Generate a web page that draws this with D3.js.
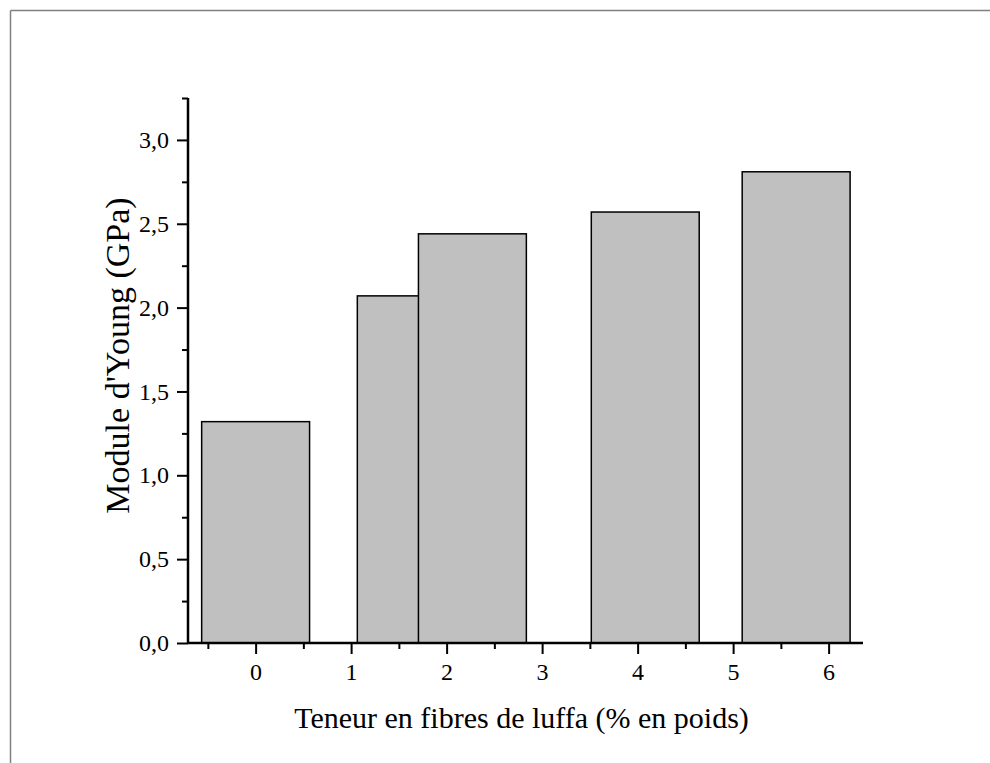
<!DOCTYPE html>
<html>
<head>
<meta charset="utf-8">
<script src="https://cdn.jsdelivr.net/npm/d3@7"></script>
<style>
  html, body { margin: 0; padding: 0; background: #fff; }
  svg { display: block; }
  text { font-family: "Liberation Serif", "Times New Roman", serif; fill: #000; }
</style>
</head>
<body>
<svg id="chart" width="990" height="763"></svg>
<script>
// ---- data ----
const fiberContent = [0, 1.63, 2.27, 4.08, 5.66];   // bar centres (% en poids)
const youngModulus = [1.32, 2.07, 2.44, 2.57, 2.81]; // GPa
const xTickValues = [0, 1, 2, 3, 4, 5, 6];
const yTickValues = [0, 0.5, 1.0, 1.5, 2.0, 2.5, 3.0];
const xTitle = "Teneur en fibres de luffa (% en poids)";
const yTitle = "Module d'Young (GPa)";

// ---- layout ----
const W = 990, H = 763;
const plot = { left: 188, right: 863, top: 98, bottom: 643 };
const barWidthUnits = 1.13;

const svg = d3.select("#chart");

// outer frame (cropped)
svg.append("line").attr("x1", 10.5).attr("y1", 10.5).attr("x2", W).attr("y2", 10.5)
  .attr("stroke", "#808080").attr("stroke-width", 1.5);
svg.append("line").attr("x1", 10.5).attr("y1", 10.5).attr("x2", 10.5).attr("y2", H)
  .attr("stroke", "#808080").attr("stroke-width", 1.5);

const x = d3.scaleLinear().domain([-0.708, 6.36]).range([plot.left, plot.right]);
const y = d3.scaleLinear().domain([0, 3.25]).range([plot.bottom, plot.top]);

// bars
const bars = fiberContent.map((c, i) => ({ c, v: youngModulus[i] }));
svg.append("g").selectAll("rect").data(bars).join("rect")
  .attr("x", d => x(d.c - barWidthUnits / 2))
  .attr("y", d => y(d.v))
  .attr("width", d => x(d.c + barWidthUnits / 2) - x(d.c - barWidthUnits / 2))
  .attr("height", d => y(0) - y(d.v))
  .attr("fill", "#c0c0c0")
  .attr("stroke", "#000")
  .attr("stroke-width", 1.5);

const fmt = v => d3.format(".1f")(v).replace(".", ",");

// X axis minor ticks
const xMinor = d3.range(-0.5, 6.0, 1);
svg.append("g").attr("transform", `translate(0,${plot.bottom})`)
  .call(d3.axisBottom(x).tickValues(xMinor).tickSize(6).tickFormat(""))
  .call(g => g.select(".domain").remove())
  .call(g => g.selectAll("line").attr("stroke-width", 2));
// X axis major
const gx = svg.append("g").attr("transform", `translate(0,${plot.bottom})`)
  .call(d3.axisBottom(x).tickValues(xTickValues).tickSize(11).tickPadding(9).tickFormat(d3.format("d")));
gx.select(".domain").attr("d", `M${plot.left},0H${plot.right}`).attr("stroke-width", 2.5);
gx.selectAll("line").attr("stroke-width", 2);
gx.selectAll("text").attr("font-size", 24).attr("font-family", "Liberation Serif");

// Y axis minor
const yMinor = d3.range(0.25, 3.3, 0.5);
svg.append("g").attr("transform", `translate(${plot.left},0)`)
  .call(d3.axisLeft(y).tickValues(yMinor).tickSize(6).tickFormat(""))
  .call(g => g.select(".domain").remove())
  .call(g => g.selectAll("line").attr("stroke-width", 2));
// Y axis major
const gy = svg.append("g").attr("transform", `translate(${plot.left},0)`)
  .call(d3.axisLeft(y).tickValues(yTickValues).tickSize(11).tickPadding(8).tickFormat(fmt));
gy.select(".domain").attr("d", `M0,${plot.bottom}V${plot.top}`).attr("stroke-width", 2.5);
gy.selectAll("line").attr("stroke-width", 2);
gy.selectAll("text").attr("font-size", 24).attr("font-family", "Liberation Serif");

// titles
svg.append("text")
  .attr("x", (plot.left + plot.right) / 2 - 4)
  .attr("y", 728)
  .attr("text-anchor", "middle")
  .attr("font-size", 30)
  .text(xTitle);

svg.append("text")
  .attr("transform", `translate(129,${(plot.top + plot.bottom) / 2 - 15}) rotate(-90)`)
  .attr("text-anchor", "middle")
  .attr("font-size", 34)
  .text(yTitle);
</script>
</body>
</html>
